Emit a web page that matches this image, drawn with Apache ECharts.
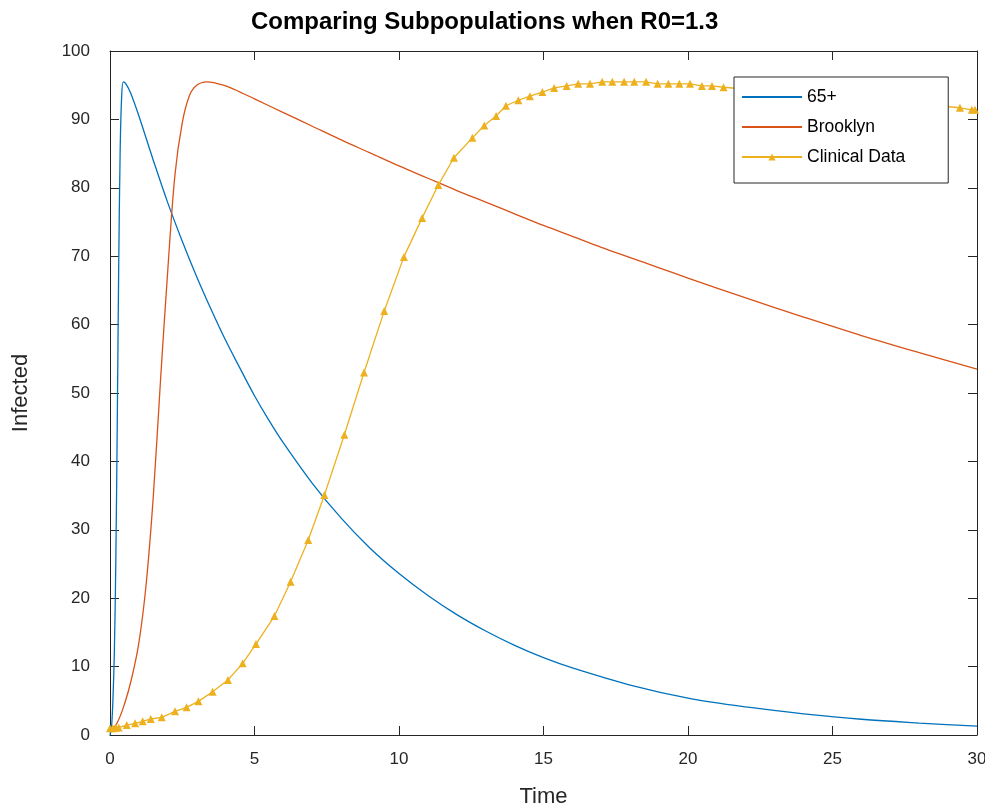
<!DOCTYPE html>
<html>
<head>
<meta charset="utf-8">
<script src="https://cdn.jsdelivr.net/npm/echarts@6/dist/echarts.min.js"></script>
<style>html,body{margin:0;padding:0;background:#fff}#c{width:985px;height:806px}</style>
</head>
<body>
<div id="c"></div>
<script>
// ---- data ----
const xTicks = [0, 5, 10, 15, 20, 25, 30];
const yTicks = [0, 10, 20, 30, 40, 50, 60, 70, 80, 90, 100];

const t65 = [0, 0.05, 0.1, 0.15, 0.2, 0.25, 0.3, 0.35, 0.4, 0.46, 0.55, 0.7, 1, 1.5, 2, 2.5, 3, 3.5, 4, 4.5, 5, 5.5, 6, 7, 8, 9, 10, 11, 12, 13, 14, 15, 16, 18, 20, 22, 24, 26, 28, 30];
const v65 = [0, 1, 5, 12, 25, 45, 68, 85, 93, 95.5, 95.2, 94.0, 90.5, 84.0, 77.8, 72.2, 67.0, 62.2, 57.7, 53.6, 49.6, 46.0, 42.7, 36.8, 31.7, 27.3, 23.6, 20.4, 17.6, 15.2, 13.1, 11.3, 9.8, 7.3, 5.4, 4.1, 3.1, 2.3, 1.75, 1.3];

const tBk = [0, 0.25, 0.5, 0.75, 1.0, 1.25, 1.5, 1.75, 2.0, 2.25, 2.5, 2.75, 3.0, 3.35, 4.0, 4.5, 5.0, 6.0, 7.0, 8.0, 9.0, 10.0, 11.0, 12.0, 13.0, 14.0, 15.0, 16.0, 17.0, 18.0, 19.0, 20.0, 22.0, 24.0, 26.0, 28.0, 30.0];
const vBk = [0.5, 1.8, 4.5, 8.3, 13.5, 22, 35, 52, 68, 82, 89.5, 93.5, 95.0, 95.5, 94.9, 94.0, 93.0, 91.0, 89.0, 87.0, 85.1, 83.2, 81.4, 79.6, 77.9, 76.2, 74.5, 72.9, 71.3, 69.8, 68.3, 66.8, 63.9, 61.1, 58.4, 55.9, 53.5];

const tCl = [0, 0.1, 0.2, 0.3, 0.58, 0.87, 1.13, 1.41, 1.79, 2.25, 2.65, 3.06, 3.55, 4.08, 4.59, 5.05, 5.69, 6.25, 6.86, 7.42, 8.11, 8.79, 9.49, 10.17, 10.80, 11.36, 11.90, 12.54, 12.95, 13.36, 13.70, 14.13, 14.53, 14.96, 15.37, 15.80, 16.20, 16.61, 17.03, 17.38, 17.79, 18.14, 18.55, 18.95, 19.32, 19.70, 20.07, 20.48, 20.83, 21.23, 29.41, 29.82, 29.93];
const vCl = [1.0, 1.0, 1.05, 1.1, 1.46, 1.71, 2.0, 2.34, 2.59, 3.46, 4.05, 4.92, 6.33, 8.04, 10.48, 13.3, 17.39, 22.4, 28.5, 35.1, 43.9, 53.0, 62.0, 69.9, 75.6, 80.4, 84.4, 87.3, 89.1, 90.5, 92.0, 92.8, 93.4, 94.0, 94.6, 94.9, 95.2, 95.2, 95.5, 95.5, 95.5, 95.5, 95.5, 95.2, 95.2, 95.2, 95.2, 94.9, 94.9, 94.7, 91.7, 91.4, 91.4];

const seriesNames = ['65+', 'Brooklyn', 'Clinical Data'];
const colors = ['#0072BD', '#D95319', '#EDB120'];

function pairs(t, v) { return t.map((x, i) => [x, v[i]]); }

const axisColor = '#262626';
const font = 'Liberation Sans, Arial, Helvetica, sans-serif';

const chart = echarts.init(document.getElementById('c'), null, { renderer: 'canvas' });
function axisLineCfg() { return { show: true, onZero: false, lineStyle: { color: axisColor, width: 1 } }; }
function axisTickCfg() { return { show: true, inside: true, length: 9, lineStyle: { color: axisColor } }; }

chart.setOption({
  animation: false,
  backgroundColor: '#fff',
  color: colors,
  title: {
    text: 'Comparing Subpopulations when R0=1.3',
    left: 246, top: 5,
    textStyle: { fontFamily: font, fontSize: 24, fontWeight: 'bold', color: '#000' }
  },
  grid: { left: 110, right: 8, top: 51, bottom: 71, containLabel: false, outerBoundsMode: 'none' },
  legend: {
    orient: 'vertical', left: 734, top: 77,
    padding: [10, 43, 16, 7],
    itemWidth: 60, itemHeight: 9, itemGap: 10,
    backgroundColor: '#fff', borderColor: axisColor, borderWidth: 1, borderRadius: 0,
    textStyle: { fontFamily: font, fontSize: 17.5, color: '#000', lineHeight: 20 },
    data: [
      { name: seriesNames[0], itemStyle: { opacity: 0 } },
      { name: seriesNames[1], itemStyle: { opacity: 0 } },
      { name: seriesNames[2] }
    ]
  },
  xAxis: [
    {
      type: 'value', min: xTicks[0], max: xTicks[xTicks.length - 1], interval: 5,
      position: 'bottom', name: 'Time', nameLocation: 'middle', nameGap: 51,
      nameTextStyle: { fontFamily: font, fontSize: 22, color: axisColor },
      axisLine: axisLineCfg(), axisTick: axisTickCfg(), splitLine: { show: false },
      axisLabel: { show: true, margin: 16, fontFamily: font, fontSize: 17, color: axisColor }
    },
    {
      type: 'value', min: xTicks[0], max: xTicks[xTicks.length - 1], interval: 5,
      position: 'top',
      axisLine: axisLineCfg(), axisTick: axisTickCfg(), splitLine: { show: false },
      axisLabel: { show: false }
    }
  ],
  yAxis: [
    {
      type: 'value', min: yTicks[0], max: yTicks[yTicks.length - 1], interval: 10,
      position: 'left', name: 'Infected', nameLocation: 'middle', nameGap: 78,
      nameTextStyle: { fontFamily: font, fontSize: 22, color: axisColor },
      axisLine: axisLineCfg(), axisTick: axisTickCfg(), splitLine: { show: false },
      axisLabel: { show: true, margin: 20, fontFamily: font, fontSize: 17, color: axisColor }
    },
    {
      type: 'value', min: yTicks[0], max: yTicks[yTicks.length - 1], interval: 10,
      position: 'right',
      axisLine: axisLineCfg(), axisTick: axisTickCfg(), splitLine: { show: false },
      axisLabel: { show: false }
    }
  ],
  series: [
    {
      name: seriesNames[0], type: 'line', data: pairs(t65, v65),
      symbol: 'none', smooth: 0.35,
      lineStyle: { color: colors[0], width: 1.3 }, itemStyle: { color: colors[0] }
    },
    {
      name: seriesNames[1], type: 'line', data: pairs(tBk, vBk),
      symbol: 'none', smooth: 0.35,
      lineStyle: { color: colors[1], width: 1.3 }, itemStyle: { color: colors[1] }
    },
    {
      name: seriesNames[2], type: 'line', data: pairs(tCl, vCl),
      symbol: 'triangle', symbolSize: 8, showSymbol: true,
      lineStyle: { color: colors[2], width: 1.3 }, itemStyle: { color: colors[2] }
    }
  ]
});
</script>
</body>
</html>
